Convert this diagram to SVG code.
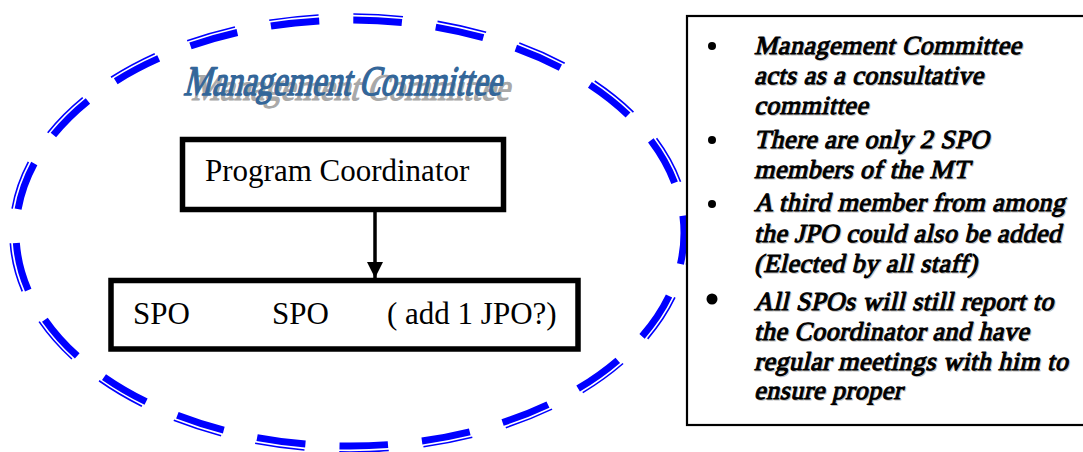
<svg xmlns="http://www.w3.org/2000/svg" width="1083" height="452" viewBox="0 0 1083 452">
  <defs>
    <marker id="arrowhead" markerUnits="userSpaceOnUse" markerWidth="18" markerHeight="18" refX="16" refY="8" orient="auto">
      <path d="M0,0 L16,8 L0,16 Z" fill="#000"/>
    </marker>
  </defs>
  <style>
    .ring-thick { fill: none; stroke: #0000ff; stroke-width: 7; stroke-dasharray: 28 19.62; stroke-dashoffset: 10; }
    .ring-thin { fill: none; stroke: #0000ff; stroke-width: 1.6; stroke-dasharray: 28 19.62; stroke-dashoffset: 10; }
    .box { fill: #fff; stroke: #000; stroke-width: 5.5; }
    .label { font-family: "Liberation Serif", "Times New Roman", serif; font-size: 31px; fill: #000; }
    .title { font-family: "Liberation Serif", "Times New Roman", serif; font-size: 42px; stroke-width: 1.4; stroke-linejoin: round; }
    .note { font-family: "Liberation Serif", "Times New Roman", serif; font-size: 26px; letter-spacing: 0.5px; fill: #000; stroke: #000; stroke-width: 1.05; stroke-linejoin: round; }
    .note-shadow { font-family: "Liberation Serif", "Times New Roman", serif; font-size: 26px; letter-spacing: 0.5px; fill: #c4c4c4; stroke: #c4c4c4; stroke-width: 1.05; stroke-linejoin: round; }
    .link { stroke: #000; stroke-width: 3.5; fill: none; }
  </style>
  <rect width="1083" height="452" fill="#fff"/>

  <!-- committee boundary: double dashed ellipse -->
  <g id="committee-ring">
    <ellipse class="ring-thin" cx="350" cy="233" rx="340" ry="219" pathLength="1000"/>
    <ellipse class="ring-thick" cx="350" cy="233" rx="334" ry="213" pathLength="1000"/>
  </g>

  <!-- WordArt-style heading (slanted, emboldened) with a dropped shadow -->
  <g id="committee-title">
    <text class="title" x="0" y="0" textLength="318" lengthAdjust="spacingAndGlyphs" fill="#a8a8a8" stroke="#a8a8a8" transform="translate(191,100) scale(1,0.89) skewX(-14)">Management Committee</text>
    <text class="title" x="0" y="0" textLength="318" lengthAdjust="spacingAndGlyphs" fill="#336699" stroke="#336699" transform="translate(183,95) skewX(-14)">Management Committee</text>
  </g>

  <g id="connectors">
    <line class="link" x1="375" y1="212" x2="375" y2="278" marker-end="url(#arrowhead)"/>
  </g>

  <g id="program-coordinator">
    <rect class="box" x="182.5" y="139.5" width="321" height="70"/>
    <text class="label" x="205" y="181">Program Coordinator</text>
  </g>

  <g id="spo-team">
    <rect class="box" x="111" y="280.5" width="467" height="68.5"/>
    <text class="label" x="133" y="324">SPO</text>
    <text class="label" x="272" y="324">SPO</text>
    <text class="label" x="387" y="324">( add 1 JPO?)</text>
  </g>

  <!-- notes panel -->
  <g id="notes">
    <rect x="687" y="16" width="410" height="409" fill="#fff" stroke="#000" stroke-width="2.2"/>
    <circle cx="712" cy="46" r="4"/>
    <circle cx="712" cy="140" r="4"/>
    <circle cx="712" cy="204" r="4"/>
    <circle cx="712" cy="299" r="5.5"/>
    <g transform="translate(1,1)">
      <text class="note-shadow" transform="translate(754,54) skewX(-13)">Management Committee</text>
      <text class="note-shadow" transform="translate(754,84) skewX(-13)">acts as a consultative</text>
      <text class="note-shadow" transform="translate(754,114) skewX(-13)">committee</text>
      <text class="note-shadow" transform="translate(754,148) skewX(-13)">There are only 2 SPO</text>
      <text class="note-shadow" transform="translate(754,178) skewX(-13)">members of the MT</text>
      <text class="note-shadow" transform="translate(754,211) skewX(-13)">A third member from among</text>
      <text class="note-shadow" transform="translate(754,242) skewX(-13)">the JPO could also be added</text>
      <text class="note-shadow" transform="translate(754,272) skewX(-13)">(Elected by all staff)</text>
      <text class="note-shadow" transform="translate(754,310) skewX(-13)">All SPOs will still report to</text>
      <text class="note-shadow" transform="translate(754,340) skewX(-13)">the Coordinator and have</text>
      <text class="note-shadow" transform="translate(754,370) skewX(-13)">regular meetings with him to</text>
      <text class="note-shadow" transform="translate(754,399) skewX(-13)">ensure proper</text>
    </g>
    <text class="note" transform="translate(754,54) skewX(-13)">Management Committee</text>
    <text class="note" transform="translate(754,84) skewX(-13)">acts as a consultative</text>
    <text class="note" transform="translate(754,114) skewX(-13)">committee</text>
    <text class="note" transform="translate(754,148) skewX(-13)">There are only 2 SPO</text>
    <text class="note" transform="translate(754,178) skewX(-13)">members of the MT</text>
    <text class="note" transform="translate(754,211) skewX(-13)">A third member from among</text>
    <text class="note" transform="translate(754,242) skewX(-13)">the JPO could also be added</text>
    <text class="note" transform="translate(754,272) skewX(-13)">(Elected by all staff)</text>
    <text class="note" transform="translate(754,310) skewX(-13)">All SPOs will still report to</text>
    <text class="note" transform="translate(754,340) skewX(-13)">the Coordinator and have</text>
    <text class="note" transform="translate(754,370) skewX(-13)">regular meetings with him to</text>
    <text class="note" transform="translate(754,399) skewX(-13)">ensure proper</text>
  </g>
</svg>
